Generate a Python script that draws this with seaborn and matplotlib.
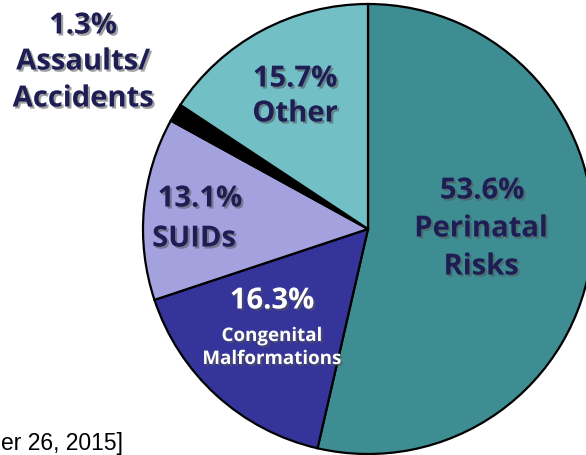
import matplotlib
matplotlib.use("Agg")
import matplotlib.pyplot as plt
import matplotlib.patheffects as pe
import seaborn as sns

# Data
categories = ["Perinatal Risks", "Congenital Malformations", "SUIDs", "Assaults/Accidents", "Other"]
values = [53.6, 16.3, 13.1, 1.3, 15.7]
pct_labels = ["53.6%", "16.3%", "13.1%", "1.3%", "15.7%"]
name_labels = ["Perinatal\nRisks", "Congenital\nMalformations", "SUIDs", "Assaults/\nAccidents", "Other"]
colors = ["#3E8D93", "#35349A", "#A4A2DE", "#000000", "#73BFC6"]
source_text = "er 26, 2015]"

sns.set_style("white")
plt.rcParams['font.family'] = ['Open Sans', 'DejaVu Sans']

W, H = 586, 456
fig = plt.figure(figsize=(W / 100, H / 100), dpi=100)
ax = fig.add_axes([0, 0, 1, 1])

cx, cy, r = 368, 230, 225
ax.pie(values, colors=colors, startangle=-90, counterclock=True,
       center=(cx, cy), radius=r, frame=True,
       wedgeprops=dict(edgecolor="black", linewidth=1.6))
ax.set_xlim(0, W)
ax.set_ylim(H, 0)
ax.set_aspect('equal')
ax.axis('off')

navy = "#1E1E55"
shadow = [pe.SimplePatchShadow(offset=(1.5, -1.5), shadow_rgbFace="#555555", alpha=0.55), pe.Normal()]

def lab(x, y, s, size, color=navy):
    ax.text(x, y, s, ha="center", va="center", fontsize=size, fontweight="bold",
            color=color, path_effects=shadow, linespacing=1.0)

BIG = 21
# Assaults/Accidents (outside)
lab(83, 27, pct_labels[3], BIG)
lab(83, 63, "Assaults/", BIG)
lab(83, 100, "Accidents", BIG)
# Other
lab(295, 80, pct_labels[4], BIG)
lab(295, 115, name_labels[4], BIG)
# Perinatal
lab(482, 192, pct_labels[0], BIG)
lab(481, 230, "Perinatal", BIG)
lab(481, 268, "Risks", BIG)
# SUIDs
lab(200, 200, pct_labels[2], BIG)
lab(194, 240, name_labels[2], BIG)
# Congenital
lab(272, 302, pct_labels[1], BIG, color="white")
lab(272, 337, "Congenital", 13.5, color="white")
lab(272, 360, "Malformations", 13.5, color="white")

ax.text(1, 450, source_text, ha="left", va="baseline",
        fontsize=16.5, color="black", family="Liberation Sans")

fig.savefig("out.png", dpi=100)
